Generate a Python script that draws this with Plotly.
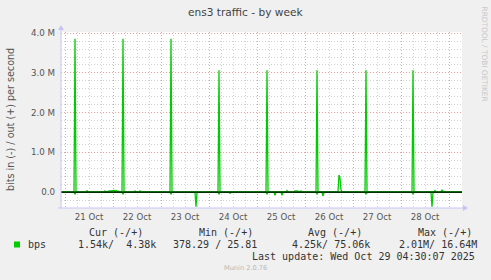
import plotly.graph_objects as go

# ---------------- data ----------------
out_times = [
    "2025-10-20 22:00", "2025-10-21 04:30", "2025-10-21 05:00", "2025-10-21 05:30",
    "2025-10-21 10:30", "2025-10-21 11:00", "2025-10-21 11:30",
    "2025-10-21 19:30", "2025-10-21 20:00", "2025-10-21 20:30",
    "2025-10-21 22:30", "2025-10-21 23:00", "2025-10-21 23:30", "2025-10-22 00:00",
    "2025-10-22 00:30", "2025-10-22 01:00", "2025-10-22 01:30", "2025-10-22 02:00",
    "2025-10-22 02:30", "2025-10-22 03:00",
    "2025-10-22 04:30", "2025-10-22 05:00", "2025-10-22 05:30",
    "2025-10-22 10:30", "2025-10-22 11:00", "2025-10-22 11:30",
    "2025-10-22 13:00", "2025-10-22 13:30", "2025-10-22 14:00",
    "2025-10-23 04:30", "2025-10-23 05:00", "2025-10-23 05:30",
    "2025-10-24 04:30", "2025-10-24 05:00", "2025-10-24 05:30",
    "2025-10-25 04:30", "2025-10-25 05:00", "2025-10-25 05:30",
    "2025-10-25 14:30", "2025-10-25 15:00", "2025-10-25 15:30",
    "2025-10-25 18:30", "2025-10-25 19:00", "2025-10-25 19:30", "2025-10-25 20:00",
    "2025-10-25 21:30", "2025-10-25 22:00", "2025-10-25 22:30",
    "2025-10-26 01:00", "2025-10-26 01:30", "2025-10-26 02:00",
    "2025-10-26 05:30", "2025-10-26 06:00", "2025-10-26 06:30",
    "2025-10-26 16:30", "2025-10-26 17:00", "2025-10-26 17:30", "2025-10-26 18:00",
    "2025-10-26 18:30",
    "2025-10-27 06:00", "2025-10-27 06:30", "2025-10-27 07:00",
    "2025-10-28 05:30", "2025-10-28 06:00", "2025-10-28 06:30",
    "2025-10-28 16:30", "2025-10-28 17:00", "2025-10-28 17:30",
    "2025-10-28 20:00", "2025-10-28 20:30", "2025-10-28 21:00",
    "2025-10-29 06:30",
]
out_bps = [
    6e3, 5e3, 3.86e6, 8e3,
    6e3, 3.5e4, 6e3,
    6e3, 3.0e4, 6e3,
    3.5e4, 1.0e4, 4.0e4, 3.0e4,
    4.5e4, 2.0e4, 4.0e4, 1.0e4,
    3.0e4, 6e3,
    5e3, 3.86e6, 8e3,
    6e3, 3.0e4, 6e3,
    6e3, 3.0e4, 6e3,
    5e3, 3.86e6, 8e3,
    5e3, 3.07e6, 8e3,
    5e3, 3.07e6, 8e3,
    6e3, 4.0e4, 6e3,
    6e3, 3.0e4, 2.0e4, 3.0e4,
    6e3, 3.0e4, 6e3,
    6e3, 2.5e4, 6e3,
    5e3, 3.07e6, 8e3,
    1.0e4, 4.3e5, 3.5e5, 6.0e4,
    1.0e4,
    5e3, 3.07e6, 8e3,
    5e3, 3.07e6, 8e3,
    6e3, 4.0e4, 6e3,
    6e3, 6.0e4, 6e3,
    6e3,
]

in_times = [
    "2025-10-20 22:00",
    "2025-10-21 04:30", "2025-10-21 05:00", "2025-10-21 05:30",
    "2025-10-22 04:30", "2025-10-22 05:00", "2025-10-22 05:30",
    "2025-10-23 04:30", "2025-10-23 05:00", "2025-10-23 05:30",
    "2025-10-23 17:00", "2025-10-23 17:30", "2025-10-23 18:00",
    "2025-10-24 04:30", "2025-10-24 05:00", "2025-10-24 05:30",
    "2025-10-24 10:00", "2025-10-24 10:30", "2025-10-24 11:00",
    "2025-10-25 04:30", "2025-10-25 05:00", "2025-10-25 05:30",
    "2025-10-25 08:30", "2025-10-25 09:00", "2025-10-25 09:30",
    "2025-10-25 12:00", "2025-10-25 12:30", "2025-10-25 13:00",
    "2025-10-26 05:30", "2025-10-26 06:00", "2025-10-26 06:30",
    "2025-10-26 08:30", "2025-10-26 09:00", "2025-10-26 09:30",
    "2025-10-27 06:00", "2025-10-27 06:30", "2025-10-27 07:00",
    "2025-10-28 05:30", "2025-10-28 06:00", "2025-10-28 06:30",
    "2025-10-28 15:00", "2025-10-28 15:30", "2025-10-28 16:00",
    "2025-10-29 06:30",
]
in_bps = [
    3e3,
    3e3, 5e4, 3e3,
    3e3, 5e4, 3e3,
    3e3, 5e4, 3e3,
    5e3, 3.7e5, 5e3,
    3e3, 5e4, 3e3,
    3e3, 3.0e4, 3e3,
    3e3, 5e4, 3e3,
    3e3, 8.0e4, 3e3,
    3e3, 8.0e4, 3e3,
    3e3, 5e4, 3e3,
    3e3, 1.0e5, 3e3,
    3e3, 5e4, 3e3,
    3e3, 5e4, 3e3,
    3e3, 3.7e5, 3e3,
    3e3,
]

y_tick_vals = [0, 1e6, 2e6, 3e6, 4e6]
y_tick_text = ["0.0", "1.0 M", "2.0 M", "3.0 M", "4.0 M"]

legend_headers = ["Cur (-/+)", "Min (-/+)", "Avg (-/+)", "Max (-/+)"]
legend_values = ["1.54k/  4.38k", "378.29 / 25.81", "4.25k/ 75.06k", "2.01M/ 16.64M"]
field_name = "bps"
last_update = "Last update: Wed Oct 29 04:30:07 2025"
title_text = "ens3 traffic - by week"
y_label = "bits in (-) / out (+) per second"
version_text = "Munin 2.0.76"
side_text = "RRDTOOL / TOBI OETIKER"

GREEN = "#00CC00"
SANS = "DejaVu Sans"
MONO = "DejaVu Sans Mono"

# ---------------- geometry (pixels) ----------------
W, H = 491, 280
L, R, T, B = 61, 462, 32, 208


def px(x):
    return (x - L) / (R - L)


def py(y):
    return (B - y) / (B - T)


fig = go.Figure()
fig.add_trace(go.Scatter(x=in_times, y=[-v for v in in_bps], mode="lines",
                         line=dict(color=GREEN, width=1.3), hoverinfo="skip"))
fig.add_trace(go.Scatter(x=out_times, y=out_bps, mode="lines",
                         line=dict(color=GREEN, width=1.3), hoverinfo="skip"))

fig.update_layout(
    width=W, height=H,
    margin=dict(l=L, r=W - R, t=T, b=H - B),
    paper_bgcolor="#F0F0F0", plot_bgcolor="#FFFFFF",
    showlegend=False,
    font=dict(family=SANS, color="#555555"),
)

fig.update_xaxes(
    type="date",
    range=["2025-10-20 22:00", "2025-10-29 06:30"],
    tick0="2025-10-21", dtick=86400000,
    tickformat="%d %b", ticklabelmode="period",
    showgrid=True, gridcolor="#E8A0A0", gridwidth=1, griddash="1px,2px",
    minor=dict(dtick=21600000, tick0="2025-10-21", showgrid=True,
               gridcolor="#D0D0D0", gridwidth=1, griddash="1px,2px"),
    showline=False, zeroline=False,
    tickfont=dict(family=SANS, size=8.6, color="#555555"),
    ticklabelstandoff=2,
)
fig.update_yaxes(
    range=[-0.4e6, 4.03e6],
    tickmode="array", tickvals=y_tick_vals, ticktext=y_tick_text,
    showgrid=True, gridcolor="#E8A0A0", gridwidth=1, griddash="1px,2px",
    minor=dict(tick0=0, dtick=0.2e6, showgrid=True,
               gridcolor="#D0D0D0", gridwidth=1, griddash="1px,2px"),
    zeroline=False,
    showline=False,
    tickfont=dict(family=SANS, size=8.7, color="#555555"),
    ticklabelstandoff=5,
)

AX = "#C4C4F4"
shapes = [
    # zero rule drawn above the data lines
    dict(type="line", xref="paper", yref="y", x0=0, x1=1, y0=0, y1=0,
         line=dict(color="#000000", width=1.1), layer="above"),
    # y axis line + arrow
    dict(type="line", xref="paper", yref="paper", x0=px(61), x1=px(61), y0=py(208), y1=py(29),
         line=dict(color=AX, width=1)),
    dict(type="path", xref="paper", yref="paper",
         path=f"M {px(58)},{py(30)} L {px(64)},{py(30)} L {px(61)},{py(25)} Z",
         fillcolor=AX, line=dict(color=AX, width=0)),
    # x axis line + arrow
    dict(type="line", xref="paper", yref="paper", x0=px(58), x1=px(464), y0=py(208), y1=py(208),
         line=dict(color=AX, width=1)),
    dict(type="path", xref="paper", yref="paper",
         path=f"M {px(463)},{py(205)} L {px(463)},{py(211)} L {px(468)},{py(208)} Z",
         fillcolor=AX, line=dict(color=AX, width=0)),
    # legend colour box
    dict(type="rect", xref="paper", yref="paper", x0=px(14), x1=px(20), y0=py(247.5), y1=py(241.5),
         fillcolor=GREEN, line=dict(width=0)),
]
fig.update_layout(shapes=shapes)

NB = "\u00a0"
ann = []
ann.append(dict(text=title_text, x=px(245.5), y=py(12), xref="paper", yref="paper",
                xanchor="center", yanchor="middle", showarrow=False,
                font=dict(family=SANS, size=10.6, color="#444444")))
ann.append(dict(text=y_label.replace(" ", NB), x=px(10), y=py(120), xref="paper", yref="paper",
                xanchor="center", yanchor="middle", showarrow=False, textangle=-90,
                font=dict(family=SANS, size=9.6, color="#555555")))
ann.append(dict(text=side_text.replace(" ", NB), x=px(484.5), y=py(54), xref="paper", yref="paper",
                xanchor="center", yanchor="middle", showarrow=False, textangle=90,
                font=dict(family=SANS, size=7.4, color="#C8C8C8")))
ann.append(dict(text=version_text, x=px(245), y=py(268), xref="paper", yref="paper",
                xanchor="center", yanchor="middle", showarrow=False,
                font=dict(family=SANS, size=6.6, color="#B8B8B8")))

header_x = [88.3, 197.7, 306.7, 416.7]
value_x = [77.3, 172.3, 290.7, 398.3]
for hx, htxt in zip(header_x, legend_headers):
    ann.append(dict(text=htxt.replace(" ", NB), x=px(hx - 1), y=py(232.3), xref="paper", yref="paper",
                    xanchor="left", yanchor="middle", showarrow=False,
                    font=dict(family=MONO, size=10, color="#333333")))
for vx, vtxt in zip(value_x, legend_values):
    ann.append(dict(text=vtxt.replace(" ", NB), x=px(vx - 1), y=py(244.7), xref="paper", yref="paper",
                    xanchor="left", yanchor="middle", showarrow=False,
                    font=dict(family=MONO, size=10, color="#333333")))
ann.append(dict(text=field_name, x=px(26.7 - 1), y=py(244.7), xref="paper", yref="paper",
                xanchor="left", yanchor="middle", showarrow=False,
                font=dict(family=MONO, size=10, color="#333333")))
ann.append(dict(text=last_update.replace(" ", NB), x=px(477), y=py(256.7), xref="paper", yref="paper",
                xanchor="right", yanchor="middle", showarrow=False,
                font=dict(family=MONO, size=10, color="#333333")))
fig.update_layout(annotations=ann)

fig.write_html("out.html")
